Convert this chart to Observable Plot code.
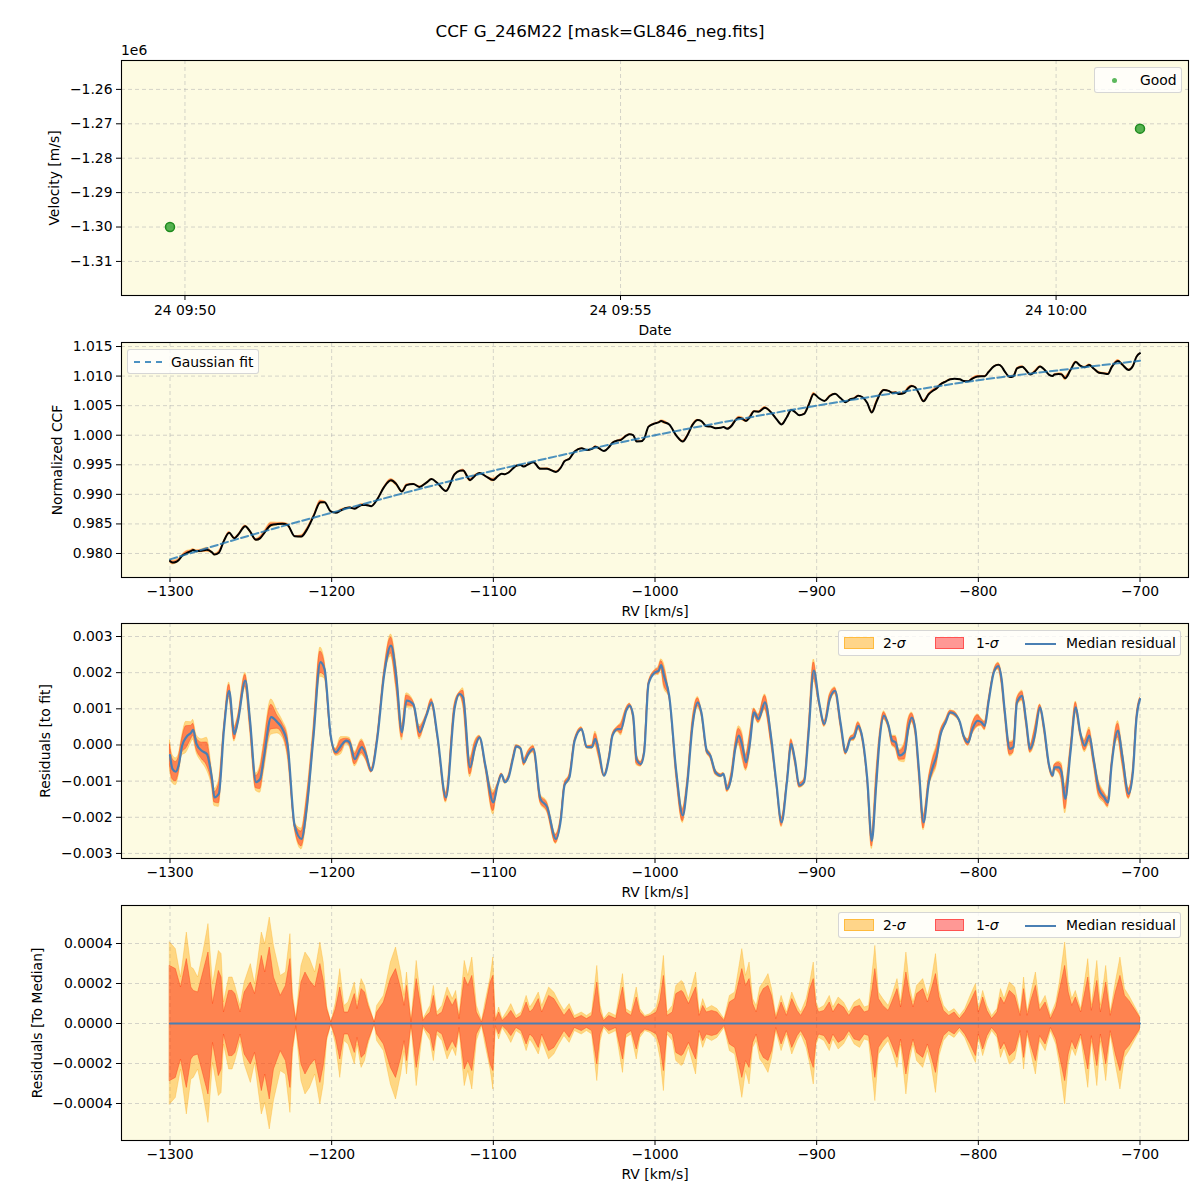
<!DOCTYPE html>
<html><head><meta charset="utf-8">
<script src="https://cdn.jsdelivr.net/npm/d3@7"></script>
<script src="https://cdn.jsdelivr.net/npm/@observablehq/plot@0.6"></script>
<style>
body{margin:0;background:#fff;font-family:"DejaVu Sans",sans-serif;}
#fig{position:relative;width:1200px;height:1200px;overflow:hidden;}
.title{position:absolute;left:0;width:1200px;top:21px;text-align:center;font-size:16.7px;color:#000;}
.off{position:absolute;left:121px;top:42px;font-size:13.9px;}
.legend{position:absolute;background:rgba(255,255,255,0.8);border:1px solid rgba(204,204,204,0.8);border-radius:3px;box-sizing:border-box;font-size:13.9px;}
.legend > *{position:absolute;}
.lt{top:50%;transform:translateY(-50%);white-space:nowrap;}
</style></head><body><div id="fig">
<div class="title">CCF G_246M22 [mask=GL846_neg.fits]</div>
<div class="off">1e6</div>
</div>
<script>
// ---------- DATA ----------
// Panel 1: observations
const obsTimes = ["2023-07-24T09:49:49.7Z", "2023-07-24T10:00:57.8Z"];
const obsVel = [-1300000, -1271400];
const obsLabel = "Good";
const timeTicks = ["2023-07-24T09:50:00Z", "2023-07-24T09:55:00Z", "2023-07-24T10:00:00Z"];
const velTicks = [-1310000, -1300000, -1290000, -1280000, -1270000, -1260000];

// Panels 2-3: RV grid, median CCF, residual to fit (x1e-3), band half-widths (x1e-4)
const rvMed = [-1300,-1298.5,-1296.4,-1294.7,-1292.5,-1290,-1286.8,-1285.7,-1283.6,-1280.4,-1277.2,-1274,-1272.5,-1269.8,-1266.6,-1263.4,-1260.2,-1258.1,-1253.4,-1250.6,-1246.8,-1244.2,-1242.1,-1237.4,-1233.6,-1230.4,-1227.2,-1222.9,-1218.7,-1215.5,-1211.2,-1207,-1204.4,-1200.6,-1197.4,-1194.2,-1191,-1188.9,-1185.7,-1181.4,-1178.9,-1175.5,-1171.8,-1167.6,-1163.3,-1160.1,-1156.5,-1153.7,-1149.5,-1145.6,-1141.4,-1138.2,-1134.6,-1129.3,-1124,-1120.8,-1118.7,-1114.4,-1111.3,-1108.5,-1104.9,-1100,-1097.4,-1094.9,-1092.8,-1090.5,-1087.9,-1085.8,-1083.2,-1081.1,-1078.4,-1075.2,-1070.9,-1066.7,-1061.3,-1058.2,-1056,-1052.9,-1049.7,-1045.4,-1042.2,-1039,-1036.9,-1034.8,-1031.6,-1028.4,-1026.3,-1023.1,-1021,-1017.8,-1015.7,-1013.5,-1011.4,-1008.8,-1006.7,-1004,
-1000,-997.8,-996.2,-994.5,-991.2,-986.8,-982.8,-980.1,-976.8,-973.5,-971.3,-968,-965.8,-962.5,-959.2,-957.6,-955.4,-952.6,-950.4,-948.2,-946,-943.7,-941.5,-938.7,-936,-932,-928.3,-925,-921.7,-918.4,-915.7,-913.5,-910.7,-907.8,-905.1,-901.8,-898.5,-895.2,-891.9,-888.6,-885.3,-882,-879.1,-876.9,-874.3,-871.6,-868.7,-865.9,-863.2,-861,-858.4,-855.5,-853.3,-851.1,-848.9,-845.6,-843.4,-841.2,-839,-836.8,-833.9,-830.6,-827.9,-825.7,-823.5,-820.2,-817.3,-814.7,-811.4,-809.2,-806.3,-803.7,-800.4,-798.2,-796,-793.7,-790.4,-787.6,-785.6,-783.8,-780.5,-778.3,-776.1,-772.8,-770.6,-767.9,-765.1,-761.8,-759.5,-756.2,-754,-752.9,-750.3,-748.5,-746.3,-743,-739.7,-737,-734.2,-731.3,-728.7,-725.4,-722.1,-719.8,-717.6,-713.6,-711,-707,-704.4,-702.2,-700];
const ccfMed = [.97872,.97846,.97856,.97886,.97960,.98003,.98043,.98059,.98037,.98045,.98062,.98019,.97981,.98013,.98218,.98350,.98256,.98307,.98460,.98377,.98231,.98260,.98331,.98483,.98498,.98503,.98481,.98293,.98288,.98395,.98631,.98866,.98867,.98711,.98689,.98731,.98769,.98779,.98757,.98822,.98821,.98800,.98916,.99122,.99237,.99177,.99047,.99156,.99176,.99125,.99199,.99258,.99191,.99056,.99337,.99400,.99405,.99240,.99317,.99363,.99310,.99241,.99304,.99350,.99342,.99370,.99436,.99484,.99495,.99469,.99509,.99543,.99431,.99434,.99379,.99454,.99560,.99603,.99724,.99781,.99749,.99768,.99803,.99782,.99732,.99801,.99873,.99910,.99922,.99992,1.00018,1.00003,.99895,.99896,.99941,1.00146,
1.00201,1.00216,1.00241,1.00221,1.00182,.99993,.99894,.99991,1.00174,1.00256,1.00239,1.00150,1.00149,1.00119,1.00127,1.00140,1.00110,1.00161,1.00247,1.00295,1.00277,1.00242,1.00299,1.00404,1.00399,1.00464,1.00390,1.00277,1.00182,1.00309,1.00428,1.00396,1.00337,1.00360,1.00502,1.00697,1.00625,1.00579,1.00663,1.00700,1.00628,1.00559,1.00609,1.00623,1.00666,1.00642,1.00544,1.00385,1.00550,1.00689,1.00764,1.00749,1.00717,1.00722,1.00696,1.00718,1.00792,1.00833,1.00810,1.00709,1.00574,1.00698,1.00756,1.00793,1.00857,1.00908,1.00947,1.00954,1.00945,1.00917,1.00911,1.00958,1.00995,1.00999,1.00997,1.01069,1.01164,1.01190,1.01161,1.01085,1.00985,1.00998,1.01129,1.01158,1.01102,1.01028,1.01075,1.01164,1.01121,1.01022,1.01001,1.01028,1.01037,1.01029,1.00963,1.01102,1.01237,1.01177,1.01149,1.01186,1.01129,1.01057,1.01044,1.01037,1.01147,1.01256,1.01196,1.01103,1.01170,1.01325,1.01387];
const residMed = [-0.28,-0.66,-0.74,-0.57,-0.02,0.21,0.35,0.42,0.03,-0.16,-0.25,-0.94,-1.45,-1.35,0.44,1.50,0.30,0.63,1.78,0.72,-1.03,-0.94,-0.39,0.77,0.63,0.44,-0.02,-2.23,-2.60,-1.77,0.26,2.29,2.10,0.26,-0.20,-0.02,0.12,0.07,-0.39,-0.06,-0.25,-0.71,0.17,1.92,2.75,1.92,0.35,1.23,1.13,0.35,0.81,1.18,0.26,-1.45,1.00,1.41,1.32,-0.62,-0.06,0.21,-0.57,-1.59,-1.12,-0.82,-1.03,-0.89,-0.39,-0.04,-0.09,-0.48,-0.25,-0.11,-1.49,-1.72,-2.60,-2.05,-1.12,-0.89,0.12,0.44,-0.06,-0.06,0.17,-0.16,-0.85,-0.34,0.26,0.44,0.44,0.95,1.09,0.81,-0.39,-0.53,-0.20,1.69,
2.01,2.05,2.21,1.92,1.36,-0.76,-1.95,-1.12,0.53,1.18,0.90,-0.16,-0.29,-0.76,-0.85,-0.80,-1.22,-0.85,-0.11,0.26,-0.02,-0.48,-0.02,0.90,0.72,1.18,0.26,-1.03,-2.14,-1.03,0.03,-0.39,-1.12,-1.03,0.26,2.06,1.18,0.58,1.27,1.50,0.63,-0.20,0.17,0.21,0.53,0.17,-0.94,-2.65,-1.12,0.17,0.81,0.53,0.12,0.07,-0.29,-0.20,0.44,0.76,0.44,-0.66,-2.14,-1.03,-0.57,-0.29,0.26,0.63,0.90,0.86,0.63,0.26,0.07,0.44,0.67,0.63,0.53,1.18,2.01,2.18,1.82,1.00,-0.11,-0.06,1.18,1.36,0.72,-0.11,0.26,1.04,0.53,-0.57,-0.85,-0.62,-0.62,-0.76,-1.49,-0.20,1.04,0.35,-0.02,0.26,-0.39,-1.22,-1.45,-1.59,-0.57,0.40,-0.29,-1.35,-0.76,0.72,1.27];
const band2Med = [4.05,3.9,3.72,3.0,2.7,4.3,2.8,2.75,2.45,3.15,4.5,2.5,2.4,3.63,1.05,2.3,2.1,1.5,2.15,2.8,2.4,3.8,4.2,4.9,3.1,2.4,3.2,0.9,2.88,3.45,2.8,4.05,2.6,0.2,1.05,2.4,1.0,1.3,2.05,2.2,1.7,0.6,0.9,1.38,3.05,3.8,2.3,2.0,1.0,2.0,0.5,1.1,0.6,1.5,1.4,0.6,2.5,2.7,1.8,0.5,1.05,3.3,0.5,0.4,0.45,0.7,0.7,0.4,0.5,1.0,1.0,1.05,1.3,1.5,1.4,0.95,0.63,0.95,0.4,0.55,0.4,0.55,2.0,2.0,0.25,0.55,0.45,0.8,1.8,0.75,0.6,1.0,1.7,0.72,0.45,0.45,
0.7,1.2,1.6,3.38,0.6,1.88,2.1,1.5,2.0,1.5,0.9,0.72,0.85,0.8,0.5,0.3,0.9,1.45,1.55,2.6,3.72,2.38,3.05,1.15,1.3,2.2,2.0,0.38,1.38,0.55,1.4,1.2,0.7,0.9,1.6,3.05,0.72,0.88,1.38,1.0,1.2,0.8,0.6,1.0,1.15,0.95,0.85,2.3,3.6,1.5,1.2,0.88,1.38,1.9,1.6,2.8,2.7,1.4,1.4,2.0,2.2,1.6,2.7,2.9,1.4,0.8,0.6,0.72,0.38,0.6,1.0,1.6,1.8,1.1,1.3,0.8,0.45,1.0,1.6,1.22,2.05,1.9,1.2,1.5,1.4,1.2,2.2,0.88,1.2,0.7,0.6,0.8,1.6,2.6,4.05,1.7,1.63,1.0,1.8,2.3,1.8,2.3,1.6,1.5,0.9,2.6,2.7,1.5,1.1,0.7,0.38];
const band1Med = [2.88,2.8,2.72,2.2,1.9,3.1,1.8,1.65,1.58,2.25,3.2,1.4,1.4,2.63,0.55,1.63,1.55,1.1,1.6,1.95,1.7,2.8,2.9,3.4,1.8,1.5,2.3,0.7,2.05,2.4,1.9,2.97,1.8,0.15,0.72,1.6,0.55,0.8,1.47,1.7,1.4,0.5,0.6,1.05,2.22,2.7,1.5,1.4,0.7,1.4,0.35,0.75,0.4,1.1,1.0,0.4,1.8,2.0,1.3,0.3,0.72,2.4,0.35,0.25,0.3,0.45,0.45,0.25,0.35,0.75,0.7,0.72,0.95,1.1,1.1,0.7,0.38,0.7,0.25,0.38,0.25,0.38,1.4,1.4,0.15,0.38,0.3,0.55,1.3,0.55,0.45,0.75,1.25,0.55,0.33,0.35,
0.5,0.8,1.1,2.38,0.4,1.47,1.6,1.1,1.4,1.1,0.6,0.55,0.6,0.58,0.35,0.2,0.65,1.1,1.22,1.9,2.72,1.88,2.22,0.9,0.95,1.8,1.6,0.22,1.05,0.38,1.1,0.9,0.5,0.65,1.3,2.22,0.55,0.63,1.05,0.7,0.9,0.6,0.45,0.75,0.85,0.7,0.6,1.6,2.5,1.15,0.85,0.63,1.05,1.5,1.2,2.0,2.0,1.1,1.1,1.55,1.7,1.2,2.0,2.1,1.1,0.55,0.42,0.55,0.22,0.45,0.8,1.3,1.5,0.85,1.0,0.55,0.3,0.75,1.2,0.97,1.63,1.5,0.9,1.1,1.0,0.9,1.6,0.63,0.9,0.5,0.4,0.6,1.25,1.9,2.88,1.2,1.3,0.75,1.3,1.6,1.2,1.6,1.1,1.1,0.65,1.9,1.9,1.2,0.85,0.55,0.3];

// Gaussian fit (dashed)
const rvFit = [-1300,-1250,-1200,-1150,-1100,-1050,-1000,-950,-900,-850,-800,-750,-700];
const fitVals = [0.9790,0.9831,0.9869,0.9906,0.9940,0.9971,1.0000,1.0026,1.0050,1.0072,1.0093,1.0110,1.0126];

// Panel 4: residuals to median, band half-widths (x1e-4)
const rvBand = [-1300,-1296.4,-1293.2,-1289.6,-1286.8,-1285.3,-1282.6,-1279.4,-1276.2,-1273.4,-1269.8,-1268.1,-1266.6,-1263.4,-1261.3,-1259.6,-1256.4,-1253.8,-1250,-1247.4,-1243.2,-1241.1,-1238.3,-1235.7,-1231.5,-1228.3,-1225.5,-1224,-1221.9,-1218.7,-1216.2,-1213.4,-1210.2,-1207,-1204.9,-1202.8,-1200.2,-1197.4,-1194.7,-1192.1,-1189.6,-1185.7,-1184,-1181.5,-1179.4,-1177.2,-1173.4,-1171.9,-1167.7,-1163.4,-1160.2,-1157,-1154.9,-1153.4,-1150.6,-1147.4,-1143.2,-1141.1,-1138.9,-1136.8,-1134.7,-1131.5,-1128.3,-1125.1,-1123,-1120.9,-1117.7,-1115.5,-1113,-1110.2,-1107,-1104.9,-1101.7,-1100,-1098.5,-1096.4,-1094.3,-1091.1,-1088.9,-1085.7,-1082.6,-1079.4,-1077.2,-1075.1,-1071.9,-1069.8,-1065.5,-1062.3,-1059.1,-1056,-1052.8,-1049.6,-1045.3,-1042.1,-1038.9,-1035.7,-1033.6,-1031.5,-1028.3,-1024,-1019.8,-1017.7,-1014.5,-1011.3,-1009.1,-1006,-1002.8,
-998.9,-996.7,-994.5,-992.3,-989,-986.8,-983.5,-982.4,-979,-974.6,-972.4,-970.2,-968,-964.7,-961.4,-957,-953.7,-950.4,-946,-943.7,-941.5,-939.3,-937.1,-934.9,-932.7,-929.8,-927.6,-925,-921.7,-918.4,-915.1,-911.8,-909.6,-906.2,-904,-901.8,-900.1,-898.5,-895.2,-891.9,-889.7,-886.4,-883.1,-879.8,-876.5,-873.2,-870.3,-867.6,-865.4,-863.7,-861.5,-858.8,-855.5,-853.3,-850,-847.8,-844.5,-842.3,-840.1,-837.9,-834.1,-831.2,-829,-826.2,-824,-821.3,-818,-814.7,-811.4,-808.1,-804.8,-801.5,-799.7,-797,-794.4,-791.5,-788.2,-786,-783.8,-780.5,-777.2,-773.9,-771.7,-769.5,-767.3,-764.4,-761.8,-758.4,-755.1,-751.8,-749.6,-746.3,-744.1,-741.9,-739.7,-736.4,-732,-729.8,-726.4,-724.2,-720.9,-718.1,-715,-712.1,-709.3,-706.6,-703.3,-700];
const sigma2 = [4.05,3.72,2.30,4.55,2.80,2.72,2.30,3.55,4.97,1.97,3.63,3.47,1.05,2.30,2.30,1.88,0.88,2.05,2.97,1.97,4.55,3.97,5.30,3.88,2.38,2.55,4.47,1.55,0.22,2.88,3.55,3.22,2.55,4.05,3.05,0.88,0.05,1.05,2.72,0.88,1.05,2.05,1.05,2.22,1.88,1.05,0.05,0.88,1.38,3.05,3.80,2.55,1.38,2.55,0.13,3.13,0.22,0.55,0.88,1.88,0.55,0.88,1.80,1.22,1.63,0.38,3.13,2.38,3.30,0.88,0.13,1.05,2.30,3.30,0.22,0.80,0.22,0.63,0.97,0.38,0.55,1.38,0.80,1.05,1.55,0.88,1.80,1.55,1.05,0.63,0.97,0.38,0.55,0.38,0.55,2.88,0.88,0.22,0.55,0.38,2.47,0.72,0.55,1.80,0.72,0.38,0.47,
0.80,1.72,3.38,0.55,0.88,1.88,2.13,2.05,1.22,2.55,0.55,1.22,0.72,0.88,0.72,0.22,1.38,1.55,3.72,2.38,3.05,1.22,0.88,1.80,2.05,2.47,1.72,0.38,1.38,0.55,1.55,0.88,0.55,1.22,2.05,3.05,1.05,0.72,0.88,1.38,0.80,1.30,1.05,0.55,1.05,1.22,0.80,0.88,2.55,3.88,1.55,1.22,0.88,1.38,2.22,1.05,3.55,1.88,1.05,1.88,2.22,1.38,2.05,3.47,1.63,0.88,0.55,0.72,0.38,0.72,1.38,1.97,0.72,1.63,0.88,0.38,0.72,1.72,1.22,2.05,1.80,0.55,2.30,0.55,1.47,2.55,0.88,1.38,0.38,1.05,2.05,4.05,2.05,1.22,1.63,0.72,3.22,0.88,3.13,0.88,2.88,0.55,2.05,3.30,1.72,1.38,0.88,0.38];
const sigma1 = [2.88,2.72,1.80,3.22,1.80,1.63,1.55,2.55,3.55,0.97,2.63,2.30,0.55,1.63,1.63,1.47,0.55,1.55,2.05,1.47,3.38,2.55,3.80,2.30,1.38,1.88,3.22,1.22,0.13,2.05,2.55,2.13,1.80,2.97,2.13,0.72,0.05,0.72,1.80,0.55,0.55,1.47,0.72,1.72,1.55,0.88,0.05,0.55,1.05,2.22,2.72,1.72,0.88,1.88,0.05,2.22,0.13,0.38,0.55,1.38,0.38,0.55,1.38,0.88,1.22,0.22,2.30,1.88,2.38,0.55,0.05,0.72,2.05,2.38,0.13,0.55,0.13,0.38,0.63,0.22,0.38,1.05,0.55,0.72,1.22,0.55,1.38,1.22,0.80,0.38,0.72,0.22,0.38,0.22,0.38,2.05,0.55,0.13,0.38,0.22,1.80,0.55,0.38,1.30,0.55,0.30,0.38,
0.55,1.13,2.38,0.38,0.55,1.47,1.63,1.55,0.97,1.80,0.38,0.88,0.55,0.63,0.55,0.13,1.05,1.22,2.72,1.88,2.22,0.97,0.55,1.38,1.72,1.88,1.38,0.22,1.05,0.38,1.22,0.63,0.38,0.88,1.72,2.22,0.88,0.55,0.63,1.05,0.55,0.97,0.80,0.38,0.80,0.88,0.55,0.63,1.72,2.72,1.22,0.88,0.63,1.05,1.72,0.80,2.55,1.47,0.80,1.47,1.72,1.05,1.63,2.47,1.30,0.63,0.38,0.55,0.22,0.55,1.05,1.63,0.55,1.30,0.63,0.22,0.55,1.30,0.97,1.63,1.38,0.38,1.72,0.38,1.13,1.88,0.63,1.05,0.22,0.80,1.63,2.88,1.55,0.88,1.30,0.55,2.30,0.63,2.13,0.55,2.05,0.38,1.55,2.38,1.38,1.13,0.72,0.30];

// Tick values
const rvTicks = [-1300,-1200,-1100,-1000,-900,-800,-700];
const ccfTicks = [0.980,0.985,0.990,0.995,1.000,1.005,1.010,1.015];
const resTicks = [-0.003,-0.002,-0.001,0,0.001,0.002,0.003];
const medTicks = [-0.0004,-0.0002,0,0.0002,0.0004];

// ---------- BUILD ----------
const fig = document.getElementById("fig");
const BG = "#fdfbe2";
const GRID = {stroke:"#b0b0b0", strokeOpacity:0.6, strokeDasharray:"4,3", strokeWidth:0.9};
const C0 = "#1f77b4";
const MED = "#4a7fb3";
const minus = s => s.replace("-", "\u2212");
const curve = "monotone-x";
const baseStyle = {background:"transparent", fontFamily:"DejaVu Sans", fontSize:"13.9px", color:"black", overflow:"visible"};
const rvDomain = [-1330, -670];

function place(svg, top) {
  svg.style.position = "absolute"; svg.style.left = "0px"; svg.style.top = top + "px";
  fig.appendChild(svg);
}
function xAxisRV() {
  return Plot.axisX(rvTicks, {tickFormat: d => minus(String(d)), tickSize:5, tickPadding:4,
    label:"RV [km/s]", labelAnchor:"center", labelOffset:38, labelArrow:"none"});
}

// Panel 1
const obs = obsTimes.map((t, i) => ({t: new Date(t), v: obsVel[i]}));
const tExt = d3.extent(obs, d => d.t);
const tPad = (tExt[1] - tExt[0]) * 0.05;
const p1 = Plot.plot({
  width:1200, height:293, marginTop:15, marginBottom:43, marginLeft:121, marginRight:12,
  style: baseStyle,
  x:{type:"utc", domain:[new Date(+tExt[0] - tPad), new Date(+tExt[1] + tPad)]},
  y:{domain:[-1319900, -1251600]},
  marks:[
    Plot.frame({fill:BG, stroke:null}),
    Plot.gridX(timeTicks.map(t => new Date(t)), GRID),
    Plot.gridY(velTicks, GRID),
    Plot.axisX(timeTicks.map(t => new Date(t)), {tickFormat: d3.utcFormat("%d %H:%M"), tickSize:5, tickPadding:5,
      label:"Date", labelAnchor:"center", labelOffset:39, labelArrow:"none"}),
    Plot.axisY(velTicks, {tickFormat: d => minus((d/1e6).toFixed(2)), tickSize:5, tickPadding:4,
      label:"Velocity [m/s]", labelAnchor:"center", labelOffset:72, labelArrow:"none"}),
    Plot.dot(obs, {x:"t", y:"v", r:4.5, fill:"#2ca02c", fillOpacity:0.8, stroke:"#1e8a1e", strokeWidth:1.5}),
    Plot.frame({stroke:"black", strokeWidth:1.1})
  ]
});
place(p1, 45);

// Panel 2
const med = rvMed.map((rv, i) => ({rv, ccf: ccfMed[i], res: residMed[i]*1e-3, w2: band2Med[i]*1e-4, w1: band1Med[i]*1e-4}));
const fit = rvFit.map((rv, i) => ({rv, f: fitVals[i]}));
const p2 = Plot.plot({
  width:1200, height:281, marginTop:4, marginBottom:42, marginLeft:121, marginRight:12,
  style: baseStyle,
  x:{domain: rvDomain}, y:{domain:[0.97594, 1.01568]},
  marks:[
    Plot.frame({fill:BG, stroke:null}),
    Plot.gridX(rvTicks, GRID), Plot.gridY(ccfTicks, GRID),
    xAxisRV(),
    Plot.axisY(ccfTicks, {tickFormat: d => minus(d.toFixed(3)), tickSize:5, tickPadding:4,
      label:"Normalized CCF", labelAnchor:"center", labelOffset:69, labelArrow:"none"}),
    Plot.areaY(med, {x:"rv", y1: d => d.ccf - d.w2, y2: d => d.ccf + d.w2, fill:"orange", fillOpacity:0.42, curve}),
    Plot.areaY(med, {x:"rv", y1: d => d.ccf - d.w1, y2: d => d.ccf + d.w1, fill:"red", fillOpacity:0.39, curve}),
    Plot.line(med, {x:"rv", y:"ccf", stroke:"black", strokeWidth:2, curve}),
    Plot.line(fit, {x:"rv", y:"f", stroke:C0, strokeOpacity:0.8, strokeWidth:2, strokeDasharray:"7.4,3.2", curve:"natural"}),
    Plot.frame({stroke:"black", strokeWidth:1.1})
  ]
});
place(p2, 338);

// Panel 3
const p3 = Plot.plot({
  width:1200, height:282, marginTop:4, marginBottom:43, marginLeft:121, marginRight:12,
  style: baseStyle,
  x:{domain: rvDomain}, y:{domain:[-0.00314, 0.00336]},
  marks:[
    Plot.frame({fill:BG, stroke:null}),
    Plot.gridX(rvTicks, GRID), Plot.gridY(resTicks, GRID),
    xAxisRV(),
    Plot.axisY(resTicks, {tickFormat: d => minus(d.toFixed(3)), tickSize:5, tickPadding:4,
      label:"Residuals [to fit]", labelAnchor:"center", labelOffset:81, labelArrow:"none"}),
    Plot.areaY(med, {x:"rv", y1: d => d.res - d.w2, y2: d => d.res + d.w2, fill:"orange", fillOpacity:0.42, stroke:"orange", strokeOpacity:0.35, strokeWidth:0.8, curve}),
    Plot.areaY(med, {x:"rv", y1: d => d.res - d.w1, y2: d => d.res + d.w1, fill:"red", fillOpacity:0.39, stroke:"#ff3a10", strokeOpacity:0.45, strokeWidth:0.9, curve}),
    Plot.line(med, {x:"rv", y:"res", stroke:MED, strokeWidth:2.2, curve}),
    Plot.frame({stroke:"black", strokeWidth:1.1})
  ]
});
place(p3, 619);

// Panel 4
const band = rvBand.map((rv, i) => ({rv, s2: sigma2[i]*1e-4, s1: sigma1[i]*1e-4, m: 0}));
const p4 = Plot.plot({
  width:1200, height:299, marginTop:4, marginBottom:60, marginLeft:121, marginRight:12,
  style: baseStyle,
  x:{domain: rvDomain}, y:{domain:[-0.000585, 0.00059]},
  marks:[
    Plot.frame({fill:BG, stroke:null}),
    Plot.gridX(rvTicks, GRID), Plot.gridY(medTicks, GRID),
    xAxisRV(),
    Plot.axisY(medTicks, {tickFormat: d => minus(d.toFixed(4)), tickSize:5, tickPadding:4,
      label:"Residuals [To Median]", labelAnchor:"center", labelOffset:89, labelArrow:"none"}),
    Plot.areaY(band, {x:"rv", y1: d => -d.s2, y2: d => d.s2, fill:"orange", fillOpacity:0.42, stroke:"orange", strokeOpacity:0.35, strokeWidth:0.8, curve:"linear"}),
    Plot.areaY(band, {x:"rv", y1: d => -d.s1, y2: d => d.s1, fill:"red", fillOpacity:0.39, stroke:"#ff3a10", strokeOpacity:0.45, strokeWidth:0.9, curve:"linear"}),
    Plot.line(band, {x:"rv", y:"m", stroke:MED, strokeWidth:2.2}),
    Plot.frame({stroke:"black", strokeWidth:1.1})
  ]
});
place(p4, 901);

// ---------- LEGENDS (HTML) ----------
function legend(left, top, w, h, html) {
  const d = document.createElement("div");
  d.className = "legend";
  Object.assign(d.style, {left: left + "px", top: top + "px", width: w + "px", height: h + "px"});
  d.innerHTML = html;
  fig.appendChild(d);
}
legend(1094, 67, 88, 26,
  `<div style="left:17px;top:10px;width:5px;height:5px;border-radius:50%;background:#5cb85c;"></div>
   <div class="lt" style="left:45px;">${obsLabel}</div>`);
legend(127, 349, 132, 25,
  `<div style="left:6px;top:11px;width:28px;border-top:2px dashed rgba(31,119,180,0.8);"></div>
   <div class="lt" style="left:43px;">Gaussian fit</div>`);
const sigLegend = `<div style="left:5px;top:6px;width:28px;height:10px;background:rgba(255,165,0,0.45);border:1px solid rgba(255,165,0,0.55);"></div>
   <div class="lt" style="left:44px;">2-<i>σ</i></div>
   <div style="left:96px;top:6px;width:27px;height:10px;background:rgba(255,0,0,0.4);border:1px solid rgba(255,0,0,0.45);"></div>
   <div class="lt" style="left:137px;">1-<i>σ</i></div>
   <div style="left:186px;top:12px;width:31px;height:2px;background:${MED};"></div>
   <div class="lt" style="left:227px;">Median residual</div>`;
legend(838, 630, 343, 26, sigLegend);
legend(838, 912, 343, 26, sigLegend);
</script>
</body></html>
